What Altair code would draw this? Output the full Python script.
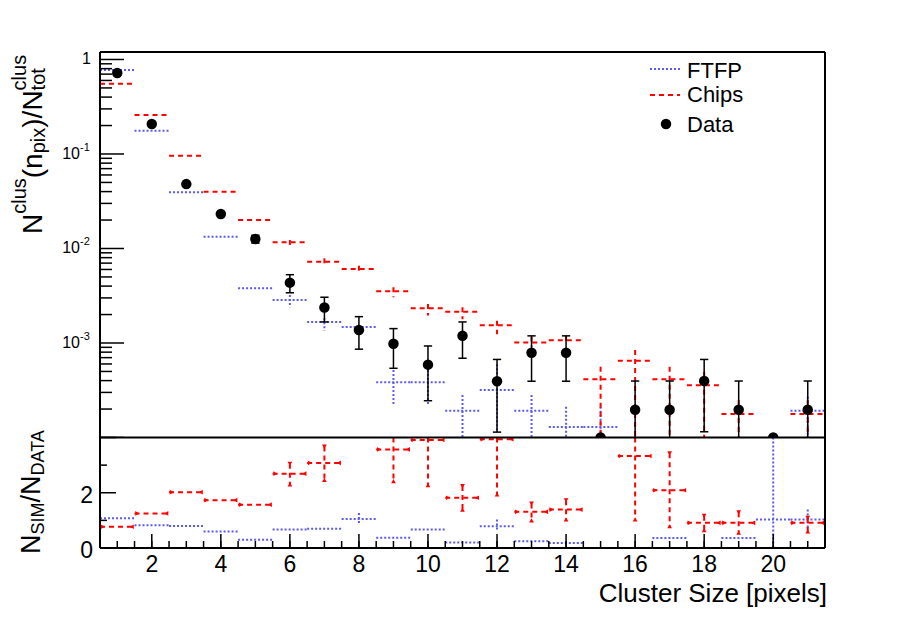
import altair as alt
import pandas as pd
import numpy as np

FONT = "Liberation Sans"
BLUE = "#5a5af0"
RED = "#ff0000"

# ---------------- data ----------------
bins = list(range(1, 22))

data_val = [0.72, 0.208, 0.048, 0.0232, 0.0126, 0.00435, 0.00237, 0.00137, 0.00098, 0.00059, 0.00119,
            0.000394, 0.00079, 0.00079, 0.0, 0.000197, 0.000197, 0.000396, 0.000197, 0.0, 0.000197]
data_hi = [None, None, None, None, 0.0138, 0.00528, 0.00305, 0.0019, 0.00142, 0.00093, 0.00167,
           0.00067, 0.00119, 0.00119, None, 0.000396, 0.000396, 0.00067, 0.000396, None, 0.000396]
data_lo = [None, None, None, None, 0.0114, 0.0034, 0.00167, 0.00086, 0.00054, 0.000245, 0.00069,
           0.000114, 0.000394, 0.000394, None, 0.0, 0.0, 0.000115, 0.0, None, 0.0]

ftfp_val = [0.774, 0.176, 0.0393, 0.0133, 0.00379, 0.00285, 0.00167, 0.00148, 0.000384, 0.000384, 0.000192,
            0.000318, 0.000192, 0.000129, 0.000129, None, None, None, None, None, 0.000192]
ftfp_hi = [None, None, None, None, None, 0.00322, 0.00183, None, 0.000518, 0.000518, 0.000282,
           0.000596, 0.000282, 0.000212, 0.000212, None, None, None, None, None, 0.00027]
ftfp_lo = [None, None, None, None, None, 0.00239, 0.00135, None, 0.000226, 0.000226, 0.0,
           0.000114, 0.0, 0.0, 0.0, None, None, None, None, None, 0.0]

chips_val = [0.555, 0.259, 0.096, 0.0399, 0.02, 0.01163, 0.00725, 0.00607, 0.00352, 0.00233, 0.00214,
             0.00154, 0.00101, 0.00107, 0.000413, 0.00065, 0.000413, 0.000357, 0.000177, None, 0.000177]
chips_hi = [None, None, None, None, None, 0.0123, 0.00787, 0.00658, 0.00388, 0.00259, 0.00239,
            0.00172, 0.00117, 0.00119, 0.000561, 0.000843, 0.000561, 0.000497, 0.000249, None, 0.000249]
chips_lo = [None, None, None, None, None, 0.0109, 0.00664, 0.00554, 0.00305, 0.00196, 0.00178,
            0.00124, 0.000914, 0.00098, 0.0, 0.0, 0.0, 0.0, 0.0, None, 0.0]

ratio_chips = [0.77, 1.25, 2.02, 1.73, 1.57, 2.69, 3.08, None, 3.57, 3.91, 1.82,
               3.94, 1.31, 1.39, None, 3.33, 2.09, 0.91, 0.91, None, 0.91]
ratio_chips_hi = [None, None, None, None, None, 3.05, 3.67, None, 4.7, 5.5, 2.24,
                  5.9, 1.61, 1.73, None, 5.6, 3.43, 1.17, 1.29, None, 1.09]
ratio_chips_lo = [None, None, None, None, None, 2.30, 2.46, None, 2.42, 2.27, 1.39,
                  1.94, 1.00, 1.03, None, 1.03, 0.79, 0.64, 0.55, None, 0.60]

ratio_ftfp = [1.08, 0.82, 0.80, 0.60, 0.30, 0.67, 0.70, 1.05, 0.37, 0.67, 0.20,
              0.79, 0.24, 0.18, None, None, 0.36, None, 0.36, 1.03, 1.03]
ratio_ftfp_hi = [None, None, None, None, None, None, None, 1.27, None, None, None,
                 1.03, None, None, None, None, None, None, None, 5.0, 1.39]
ratio_ftfp_lo = [None, None, None, None, None, None, None, 0.85, None, None, None,
                 0.60, None, None, None, None, None, None, None, 0.0, 0.67]

x_major = [2, 4, 6, 8, 10, 12, 14, 16, 18, 20]
x_minor = list(np.arange(0.5, 21.51, 0.5))
logy_major = [1, 0.1, 0.01, 0.001, 0.0001]
logy_minor = [m * 10.0 ** k for k in range(-4, 0) for m in range(2, 10)]
logy_labels = [0.1, 0.01, 0.001]
logy_exps = ["-1", "-2", "-3"]
ratio_major = [0, 2, 4]
ratio_minor = [1, 3]
ratio_labels = [0, 2]

df = pd.DataFrame({
    "x": bins,
    "data": data_val, "data_hi": data_hi, "data_lo": data_lo,
    "ftfp": ftfp_val, "ftfp_hi": ftfp_hi, "ftfp_lo": ftfp_lo,
    "chips": chips_val, "chips_hi": chips_hi, "chips_lo": chips_lo,
    "rc": ratio_chips, "rc_hi": ratio_chips_hi, "rc_lo": ratio_chips_lo,
    "rf": ratio_ftfp, "rf_hi": ratio_ftfp_hi, "rf_lo": ratio_ftfp_lo,
})

W, H = 725, 496
SPLIT = 385.5
YMIN = 1e-4

xs = alt.Scale(domain=[0.5, 21.5], nice=False, zero=False)
yu = alt.Scale(type="log", domain=[YMIN, 1.2], range=[SPLIT, 0], nice=False)
yl = alt.Scale(domain=[0, 4], range=[H, SPLIT], nice=False, zero=False)

base = alt.Chart(df).transform_calculate(lo="datum.x - 0.5", hi="datum.x + 0.5",
                                         cl="datum.x - 0.12", cr="datum.x + 0.12")
dummy = pd.DataFrame({"_": [0]})


def X(f):
    return alt.X(f, type="quantitative", scale=xs, axis=None)


def YU(f):
    return alt.Y(f, type="quantitative", scale=yu, axis=None)


def YL(f):
    return alt.Y(f, type="quantitative", scale=yl, axis=None)


def hist_layers(col, color, dash, Y, clamp_lo, clamp_hi):
    h = base.transform_filter(f"isValid(datum.{col})").mark_rule(
        color=color, strokeDash=dash, strokeWidth=2).encode(x=X("lo"), x2=alt.X2("hi"), y=Y(col))
    v = base.transform_filter(f"isValid(datum.{col}_hi)").transform_calculate(
        ya=f"min(max(datum.{col}_hi, {clamp_lo}), {clamp_hi})",
        yb=f"min(max(datum.{col}_lo, {clamp_lo}), {clamp_hi})").mark_rule(
        color=color, strokeDash=dash, strokeWidth=2).encode(x=X("x"), y=Y("ya"), y2=alt.Y2("yb"))
    return [h, v]


upper_layers = []
upper_layers += hist_layers("ftfp", BLUE, [2, 2], YU, YMIN, 1.2)
upper_layers += hist_layers("chips", RED, [5, 4], YU, YMIN, 1.2)

data_bar = base.transform_filter("isValid(datum.data_hi)").transform_calculate(
    yb=f"max(datum.data_lo, {YMIN})").mark_rule(color="black", strokeWidth=1.5).encode(
    x=X("x"), y=YU("data_hi"), y2=alt.Y2("yb"))
cap_top = base.transform_filter("isValid(datum.data_hi)").mark_rule(color="black", strokeWidth=1.5).encode(
    x=X("cl"), x2=alt.X2("cr"), y=YU("data_hi"))
cap_bot = base.transform_filter("isValid(datum.data_lo) && datum.data_lo > 0").mark_rule(
    color="black", strokeWidth=1.5).encode(x=X("cl"), x2=alt.X2("cr"), y=YU("data_lo"))
dots = base.transform_calculate(yd=f"max(datum.data, {YMIN})").mark_point(
    filled=True, shape="circle", size=110, color="black", opacity=1).encode(x=X("x"), y=YU("yd"))
upper_layers += [data_bar, cap_top, cap_bot, dots]

# log y axis ticks (inside the frame)
ymaj = alt.Chart(pd.DataFrame({"v": logy_major})).mark_rule(color="black", strokeWidth=1.5).encode(
    x=alt.value(0), x2=alt.value(24), y=YU("v"))
ymin_t = alt.Chart(pd.DataFrame({"v": logy_minor})).mark_rule(color="black", strokeWidth=1.5).encode(
    x=alt.value(0), x2=alt.value(12), y=YU("v"))
lab_one = alt.Chart(pd.DataFrame({"v": [1.0]})).mark_text(
    text="1", font=FONT, fontSize=16, align="right", baseline="middle").encode(x=alt.value(-9), y=YU("v"))
lab_ten = alt.Chart(pd.DataFrame({"v": logy_labels, "e": logy_exps})).mark_text(
    text="10", font=FONT, fontSize=16, align="right", baseline="middle").encode(x=alt.value(-20), y=YU("v"))
lab_exp = alt.Chart(pd.DataFrame({"v": logy_labels, "e": logy_exps})).mark_text(
    font=FONT, fontSize=11, align="left", baseline="middle", dy=-6).encode(
    x=alt.value(-20), y=YU("v"), text="e:N")
upper_layers += [ymaj, ymin_t, lab_one, lab_ten, lab_exp]

upper = alt.layer(*upper_layers)

# white pad for the ratio panel
pad = alt.Chart(dummy).mark_rect(color="white").encode(
    x=alt.value(0), x2=alt.value(W), y=alt.value(SPLIT), y2=alt.value(H))

lower_layers = []
lower_layers += hist_layers("rf", BLUE, [2, 2], YL, 0, 4)
lower_layers += hist_layers("rc", RED, [5, 4], YL, 0, 4)

# ROOT-style triangular end markers on the Chips ratio error bars
rc_base = base.transform_filter("isValid(datum.rc)")
tri = dict(filled=True, color=RED, size=22, opacity=1)
lower_layers += [
    rc_base.transform_calculate(tx="datum.x - 0.42").mark_point(shape="triangle-right", **tri).encode(
        x=X("tx"), y=YL("rc")),
    rc_base.transform_calculate(tx="datum.x + 0.42").mark_point(shape="triangle-left", **tri).encode(
        x=X("tx"), y=YL("rc")),
    rc_base.transform_filter("isValid(datum.rc_hi) && datum.rc_hi <= 4").mark_point(
        shape="triangle-down", **tri).encode(x=X("x"), y=YL("rc_hi")),
    rc_base.transform_filter("isValid(datum.rc_lo)").mark_point(
        shape="triangle-up", **tri).encode(x=X("x"), y=YL("rc_lo")),
]

rmaj = alt.Chart(pd.DataFrame({"v": ratio_major})).mark_rule(color="black", strokeWidth=1.5).encode(
    x=alt.value(0), x2=alt.value(16), y=YL("v"))
rmin = alt.Chart(pd.DataFrame({"v": ratio_minor})).mark_rule(color="black", strokeWidth=1.5).encode(
    x=alt.value(0), x2=alt.value(7), y=YL("v"))
rlab = alt.Chart(pd.DataFrame({"v": ratio_labels})).mark_text(
    font=FONT, fontSize=23, align="right", baseline="middle", dy=3).encode(
    x=alt.value(-7), y=YL("v"), text=alt.Text("v:Q", format="d"))
xmaj = alt.Chart(pd.DataFrame({"v": x_major})).mark_rule(color="black", strokeWidth=1.5).encode(
    x=X("v"), y=alt.value(H), y2=alt.value(H - 14))
xmin_t = alt.Chart(pd.DataFrame({"v": x_minor})).mark_rule(color="black", strokeWidth=1.5).encode(
    x=X("v"), y=alt.value(H), y2=alt.value(H - 7))
xlab = alt.Chart(pd.DataFrame({"v": x_major})).mark_text(
    font=FONT, fontSize=23, align="center", baseline="alphabetic").encode(
    x=X("v"), y=alt.value(520), text=alt.Text("v:Q", format="d"))
lower_layers += [rmaj, rmin, rlab, xmaj, xmin_t, xlab]
lower = alt.layer(*lower_layers)


def txt(s, x, y, size, angle=0, align="left", baseline="alphabetic"):
    return alt.Chart(dummy).mark_text(text=s, font=FONT, fontSize=size, angle=angle, align=align,
                                      baseline=baseline, color="black").encode(x=alt.value(x), y=alt.value(y))


def hline(x1, x2, y, w=2, color="black", dash=None):
    kw = dict(color=color, strokeWidth=w)
    if dash:
        kw["strokeDash"] = dash
    return alt.Chart(dummy).mark_rule(**kw).encode(x=alt.value(x1), x2=alt.value(x2), y=alt.value(y))


def vline(x, y1, y2, w=2):
    return alt.Chart(dummy).mark_rule(color="black", strokeWidth=w).encode(
        x=alt.value(x), y=alt.value(y1), y2=alt.value(y2))


frame = [hline(0, W, 0), hline(0, W, SPLIT), hline(0, W, H), vline(0, 0, H), vline(W, 0, H)]

legend = [
    hline(550, 580, 17, color=BLUE, dash=[2, 2]),
    hline(550, 580, 43, color=RED, dash=[5, 4]),
    alt.Chart(dummy).mark_point(filled=True, shape="circle", size=110, color="black", opacity=1).encode(
        x=alt.value(566), y=alt.value(72)),
    txt("FTFP", 587, 25.7, 22), txt("Chips", 587, 49.5, 22), txt("Data", 587, 79.7, 22),
]

titles = [
    txt("Cluster Size [pixels]", 727, 549.5, 26, align="right"),
    # upper y title: N^{clus}(n_{pix})/N^{clus}_{tot}
    txt("N", -58, 182, 28, angle=270), txt("clus", -74.5, 161.8, 20, angle=270),
    txt("(n", -58, 126.2, 28, angle=270), txt("pix", -55, 101.3, 20, angle=270),
    txt(")/N", -58, 75.7, 28, angle=270), txt("clus", -74.5, 38.4, 20, angle=270),
    txt("tot", -55, 38.4, 20, angle=270),
    # lower y title: N_{SIM}/N_{DATA}
    txt("N", -60, 502, 27, angle=270), txt("SIM", -56, 482.5, 18, angle=270),
    txt("/N", -60, 450.5, 27, angle=270), txt("DATA", -56, 423.5, 18, angle=270),
]

chart = alt.layer(upper, pad, lower, *frame, *legend, *titles).resolve_scale(y="independent").properties(
    width=W, height=H,
    padding={"left": 92, "top": 44, "right": 68, "bottom": 60},
    autosize=alt.AutoSizeParams(type="none"),
    background="white",
).configure_view(stroke=None)

chart.save("out.html", embed_options={"renderer": "svg", "actions": False})
